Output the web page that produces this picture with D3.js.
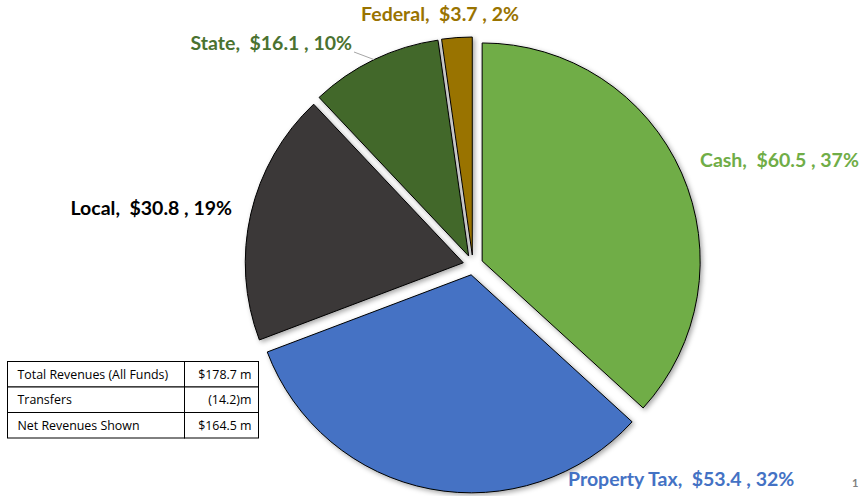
<!DOCTYPE html>
<html>
<head>
<meta charset="utf-8">
<script src="https://cdn.jsdelivr.net/npm/d3@7"></script>
<style>
  body { margin: 0; background: #fff; }
  svg { display: block; }
</style>
</head>
<body>
<div id="chart"></div>
<script>
// Revenue sources ($ millions), clockwise from 12 o'clock
var categories = ["Cash", "Property Tax", "Local", "State", "Federal"]
var amounts = [60.5, 53.4, 30.8, 16.1, 3.7]
var percents = ["37%", "32%", "19%", "10%", "2%"]
var sliceColors = ["#70AD47", "#4472C4", "#3B3838", "#43682B", "#997300"]
var labelColors = ["#70AD47", "#4472C4", "#000000", "#4A7230", "#997300"]

// summary table
var tableLabels = ["Total Revenues (All Funds)", "Transfers", "Net Revenues Shown"]
var tableValues = ["$178.7 m", "(14.2)m", "$164.5 m"]

var width = 862
var height = 496
var cx = 473, cy = 265
var radius = 218
var explode = 10

var svg = d3.select("#chart").append("svg")
    .attr("width", width)
    .attr("height", height)

// soft shadow like the office chart
var defs = svg.append("defs")
defs.append("filter")
    .attr("id", "shadow")
    .attr("x", "-10%").attr("y", "-10%")
    .attr("width", "130%").attr("height", "130%")
  .append("feDropShadow")
    .attr("dx", 2).attr("dy", 2)
    .attr("stdDeviation", 2.5)
    .attr("flood-color", "#000")
    .attr("flood-opacity", 0.35)

var pie = d3.pie().sort(null)
var arcs = pie(amounts)

var arc = d3.arc()
    .innerRadius(0)
    .outerRadius(radius)

var mid = function (d) { return (d.startAngle + d.endAngle) / 2 }

var slices = svg.append("g")
    .attr("transform", "translate(" + cx + "," + cy + ")")

slices.selectAll("path")
    .data(arcs)
    .enter()
    .append("path")
    .attr("d", arc)
    .attr("fill", function (d, i) { return sliceColors[i] })
    .attr("stroke", "#000")
    .attr("stroke-width", 1)
    .attr("filter", "url(#shadow)")
    .attr("transform", function (d) {
        var a = mid(d)
        return "translate(" + (Math.sin(a) * explode) + "," + (-Math.cos(a) * explode) + ")"
    })

// label spots relative to pie centre (the original labels were dragged around by hand)
var labelPos = {
    "Cash": [227, -103, "start"],
    "Property Tax": [95, 216, "start"],
    "Local": [-241, -55, "end"],
    "State": [-121, -220, "end"],
    "Federal": [-33, -249, "middle"]
}

var labels = svg.append("g")
    .attr("transform", "translate(" + cx + "," + cy + ")")

labels.selectAll("text")
    .data(arcs)
    .enter()
    .append("text")
    .style("white-space", "pre")
    .attr("font-family", "Lato, 'Open Sans', sans-serif")
    .attr("font-weight", "bold")
    .attr("font-size", "19.5px")
    .attr("dominant-baseline", "middle")
    .attr("fill", function (d, i) { return labelColors[i] })
    .attr("x", function (d, i) { return labelPos[categories[i]][0] })
    .attr("y", function (d, i) { return labelPos[categories[i]][1] })
    .attr("text-anchor", function (d, i) { return labelPos[categories[i]][2] })
    .text(function (d, i) { return categories[i] + ",  $" + amounts[i].toFixed(1) + " , " + percents[i] })

// leader line for State
var stateArc = arcs[3]
var sa = mid(stateArc)
var ex = Math.sin(sa) * explode
var ey = -Math.cos(sa) * explode
labels.append("polyline")
    .attr("points", [
        [-119, -213],
        [Math.sin(sa) * radius + ex, -Math.cos(sa) * radius + ey]
    ].map(function (p) { return p.join(",") }).join(" "))
    .attr("fill", "none")
    .attr("stroke", "#A6A6A6")
    .attr("stroke-width", 1)

// summary table
var tx = 7.5, ty = 361.5, rowH = 25.5, col1 = 177, col2 = 74
var table = svg.append("g")
    .attr("transform", "translate(" + tx + "," + ty + ")")

var rows = table.selectAll("g")
    .data(tableLabels)
    .enter()
    .append("g")
    .attr("transform", function (d, i) { return "translate(0," + (i * rowH) + ")" })

rows.append("rect")
    .attr("width", col1).attr("height", rowH)
    .attr("fill", "#fff").attr("stroke", "#000").attr("stroke-width", 1)
rows.append("rect")
    .attr("x", col1)
    .attr("width", col2).attr("height", rowH)
    .attr("fill", "#fff").attr("stroke", "#000").attr("stroke-width", 1)

rows.append("text")
    .attr("x", 10)
    .attr("y", rowH / 2 + 1)
    .attr("dominant-baseline", "middle")
    .attr("font-family", "'Open Sans', sans-serif")
    .attr("font-size", "12.4px")
    .attr("fill", "#000")
    .text(function (d) { return d })

rows.append("text")
    .attr("x", col1 + col2 - 7)
    .attr("y", rowH / 2 + 1)
    .attr("text-anchor", "end")
    .attr("dominant-baseline", "middle")
    .attr("font-family", "'Open Sans', sans-serif")
    .attr("font-size", "12.4px")
    .attr("fill", "#000")
    .text(function (d, i) { return tableValues[i] })

// page number
svg.append("text")
    .attr("x", 852)
    .attr("y", 487)
    .attr("font-family", "Lato, sans-serif")
    .attr("font-weight", "bold")
    .attr("font-size", "11px")
    .attr("fill", "#7F7F7F")
    .text("1")
</script>
</body>
</html>
